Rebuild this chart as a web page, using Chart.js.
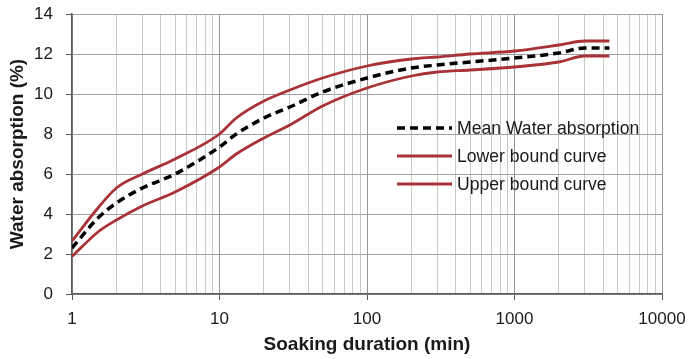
<!DOCTYPE html>
<html>
<head>
<meta charset="utf-8">
<script src="https://cdn.jsdelivr.net/npm/chart.js@4"></script>
<style>
  html, body { margin: 0; padding: 0; background: #fff; }
  #wrap { width: 691px; height: 359px; }
</style>
</head>
<body>
<div id="wrap"><canvas id="absorptionChart" width="691" height="359"></canvas></div>
<script>
// soaking time (min) and water absorption (%)
const durations = [1, 1.5, 2, 3, 5, 10, 13, 20, 30, 50, 100, 200, 300, 500, 1000, 2000, 3000, 4400];
const meanAbsorption = [2.3, 3.8, 4.55, 5.3, 6.0, 7.35, 8.0, 8.8, 9.35, 10.1, 10.8, 11.3, 11.45, 11.6, 11.8, 12.05, 12.3, 12.3];
const lowerBound = [1.87, 3.1, 3.7, 4.4, 5.1, 6.35, 7.0, 7.8, 8.45, 9.4, 10.3, 10.9, 11.1, 11.2, 11.35, 11.6, 11.9, 11.9];
const upperBound = [2.65, 4.3, 5.3, 6.0, 6.75, 8.0, 8.8, 9.65, 10.2, 10.8, 11.4, 11.75, 11.85, 12.0, 12.15, 12.45, 12.65, 12.65];
const yTicks = [0, 2, 4, 6, 8, 10, 12, 14];
const xDecades = [1, 10, 100, 1000, 10000];

const red = "#a93237";
const font = "Arial, 'Liberation Sans', sans-serif";

function toPoints(ys) {
  return durations.map((d, i) => ({ x: d, y: ys[i] }));
}

function isDecade(v) {
  return xDecades.some(d => Math.abs(v - d) < 1e-6);
}

// legend drawn inside the plot, like the original
const innerLegend = {
  id: "innerLegend",
  afterDatasetsDraw(chart) {
    const ctx = chart.ctx;
    const x0 = 397, x1 = 452, tx = 457;
    const rows = [128, 156, 184];
    ctx.save();
    ctx.font = "17.6px " + font;
    ctx.textBaseline = "middle";
    chart.data.datasets.forEach((ds, i) => {
      const y = rows[i];
      ctx.strokeStyle = ds.borderColor;
      ctx.lineWidth = ds.borderWidth;
      ctx.setLineDash(ds.borderDash || []);
      ctx.beginPath();
      ctx.moveTo(x0, y);
      ctx.lineTo(x1, y);
      ctx.stroke();
      ctx.setLineDash([]);
      ctx.fillStyle = "#1a1a1a";
      ctx.fillText(ds.label, tx, y + 1);
    });
    ctx.restore();
  }
};

const ctx = document.getElementById("absorptionChart").getContext("2d");
new Chart(ctx, {
  type: "line",
  data: {
    datasets: [
      {
        label: "Mean Water absorption",
        data: toPoints(meanAbsorption),
        borderColor: "#000",
        borderWidth: 3.5,
        borderDash: [8, 5],
        pointRadius: 0,
        cubicInterpolationMode: "monotone"
      },
      {
        label: "Lower bound curve",
        data: toPoints(upperBound),
        borderColor: red,
        borderWidth: 2.8,
        pointRadius: 0,
        cubicInterpolationMode: "monotone"
      },
      {
        label: "Upper bound curve",
        data: toPoints(lowerBound),
        borderColor: red,
        borderWidth: 2.8,
        pointRadius: 0,
        cubicInterpolationMode: "monotone"
      }
    ]
  },
  options: {
    responsive: false,
    animation: false,
    layout: { padding: { top: 14, right: 29, left: 0, bottom: 0 } },
    plugins: {
      legend: { display: false },
      tooltip: { enabled: false }
    },
    scales: {
      x: {
        type: "logarithmic",
        min: 1,
        max: 10000,
        afterFit: s => {
          s.height = 65;
          s.paddingLeft = 0;
          s.paddingRight = 0;
        },
        afterBuildTicks: s => {
          const t = [];
          for (let d = 1; d < 10000; d *= 10) {
            for (let m = 1; m < 10; m++) t.push({ value: d * m });
          }
          t.push({ value: 10000 });
          s.ticks = t;
        },
        border: { color: "#5a5a5a", width: 1.5 },
        grid: {
          color: c => (c.tick && isDecade(c.tick.value) ? "#959595" : "#c8c8c8"),
          lineWidth: 1,
          tickLength: 6,
          tickColor: c => (c.tick && isDecade(c.tick.value) ? "#5a5a5a" : "rgba(0,0,0,0)")
        },
        ticks: {
          autoSkip: false,
          maxRotation: 0,
          padding: 9,
          color: "#1a1a1a",
          font: { size: 17, family: font },
          callback: v => (isDecade(v) ? String(v) : "")
        },
        title: {
          display: true,
          text: "Soaking duration (min)",
          color: "#1a1a1a",
          font: { size: 19, weight: "bold", family: font },
          padding: { top: 2, bottom: 3 }
        }
      },
      y: {
        min: 0,
        max: 14,
        afterFit: s => {
          s.width = 72;
          s.paddingTop = 0;
          s.paddingBottom = 0;
        },
        afterBuildTicks: s => { s.ticks = yTicks.map(v => ({ value: v })); },
        border: { color: "#5a5a5a", width: 1.5 },
        grid: {
          color: "#a0a0a0",
          lineWidth: 1,
          tickLength: 6,
          tickColor: "#5a5a5a"
        },
        ticks: {
          padding: 13,
          color: "#1a1a1a",
          font: { size: 17, family: font }
        },
        title: {
          display: true,
          text: "Water absorption (%)",
          color: "#1a1a1a",
          font: { size: 19, weight: "bold", family: font },
          padding: { top: 6, bottom: 2 }
        }
      }
    }
  },
  plugins: [innerLegend]
});
</script>
</body>
</html>
